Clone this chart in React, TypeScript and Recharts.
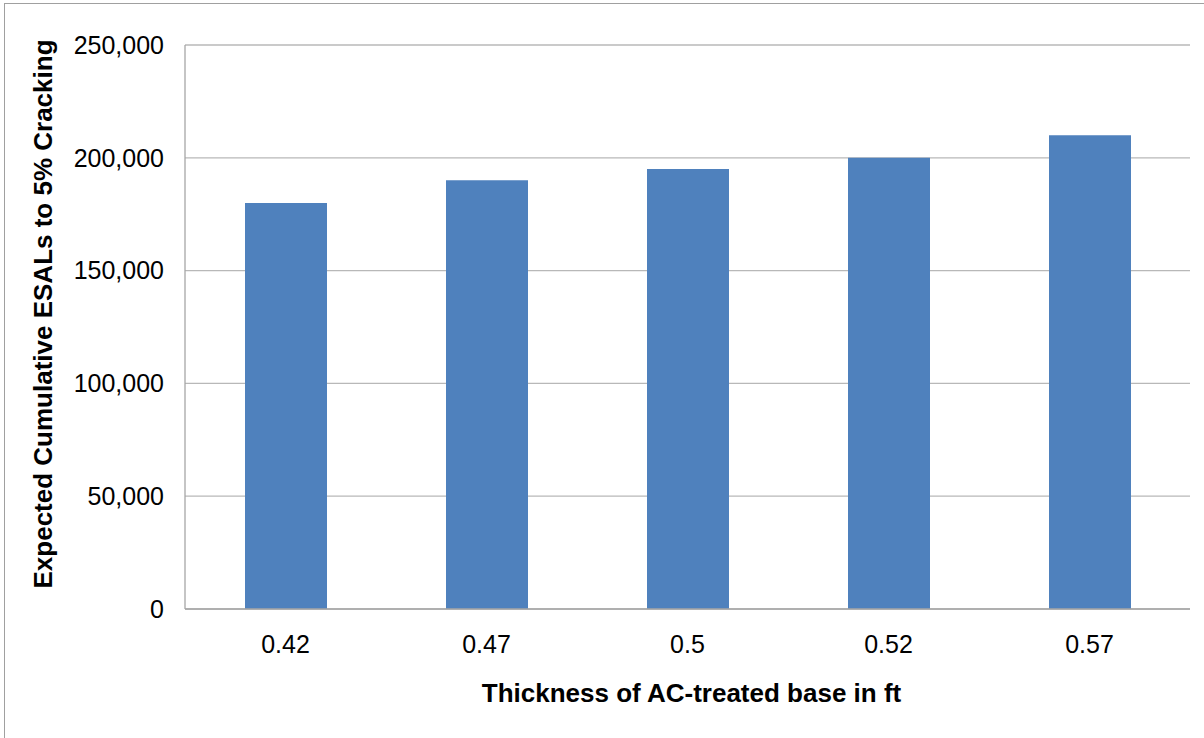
import React from 'react';
import { BarChart, Bar, XAxis, YAxis, CartesianGrid } from 'recharts';

const thickness = ['0.42', '0.47', '0.5', '0.52', '0.57'];
const esals = [180000, 190000, 195000, 200000, 210000];
const yTicks = [0, 50000, 100000, 150000, 200000, 250000];

const data = thickness.map((t, i) => ({ thickness: t, esals: esals[i] }));

const FONT = '"Liberation Sans", Arial, sans-serif';

const YTitle = ({ viewBox }: any) => {
  const cx = 42.5;
  const cy = viewBox.y + viewBox.height / 2 - 13;
  return (
    <text
      x={cx}
      y={cy}
      dy="0.36em"
      transform={`rotate(-90 ${cx} ${cy})`}
      textAnchor="middle"
      fontFamily={FONT}
      fontSize={26}
      fontWeight="bold"
      fill="#000"
    >
      Expected Cumulative ESALs to 5% Cracking
    </text>
  );
};

const XTitle = ({ viewBox }: any) => (
  <text
    x={viewBox.x + viewBox.width / 2 + 4}
    y={viewBox.y + 93}
    textAnchor="middle"
    fontFamily={FONT}
    fontSize={26}
    fontWeight="bold"
    fill="#000"
  >
    Thickness of AC-treated base in ft
  </text>
);

const App = () => {
  return (
    <div style={{ position: 'absolute', left: 0, top: 0, width: 1204, height: 738, overflow: 'hidden', background: '#fff' }}>
      {/* outer chart frame, runs past the right/bottom edge like the source */}
      <div style={{ position: 'absolute', left: 4, top: 3, width: 1300, height: 900, border: '1.5px solid #a0a0a0' }} />
      <div style={{ position: 'absolute', left: 0, top: 0 }}>
        <BarChart width={1204} height={738} data={data} margin={{ top: 45, right: 14, bottom: 0, left: 0 }}>
          <CartesianGrid vertical={false} stroke="#b8b8b8" strokeWidth={1.3} />
          <XAxis
            dataKey="thickness"
            height={129}
            tickLine={false}
            tickSize={0}
            tickMargin={26}
            axisLine={{ stroke: '#a6a6a6', strokeWidth: 1.3 }}
            tick={{ fill: '#000', fontSize: 25, fontFamily: FONT }}
            label={<XTitle />}
          />
          <YAxis
            width={185}
            domain={[0, 250000]}
            ticks={yTicks}
            interval={0}
            tickLine={false}
            tickSize={0}
            tickMargin={21}
            axisLine={{ stroke: '#a6a6a6', strokeWidth: 1.3 }}
            tick={{ fill: '#000', fontSize: 25, fontFamily: FONT }}
            tickFormatter={(v: number) => v.toLocaleString('en-US')}
            label={<YTitle />}
          />
          <Bar dataKey="esals" fill="#4f81bd" barSize={82} isAnimationActive={false} />
        </BarChart>
      </div>
    </div>
  );
};

export default App;
